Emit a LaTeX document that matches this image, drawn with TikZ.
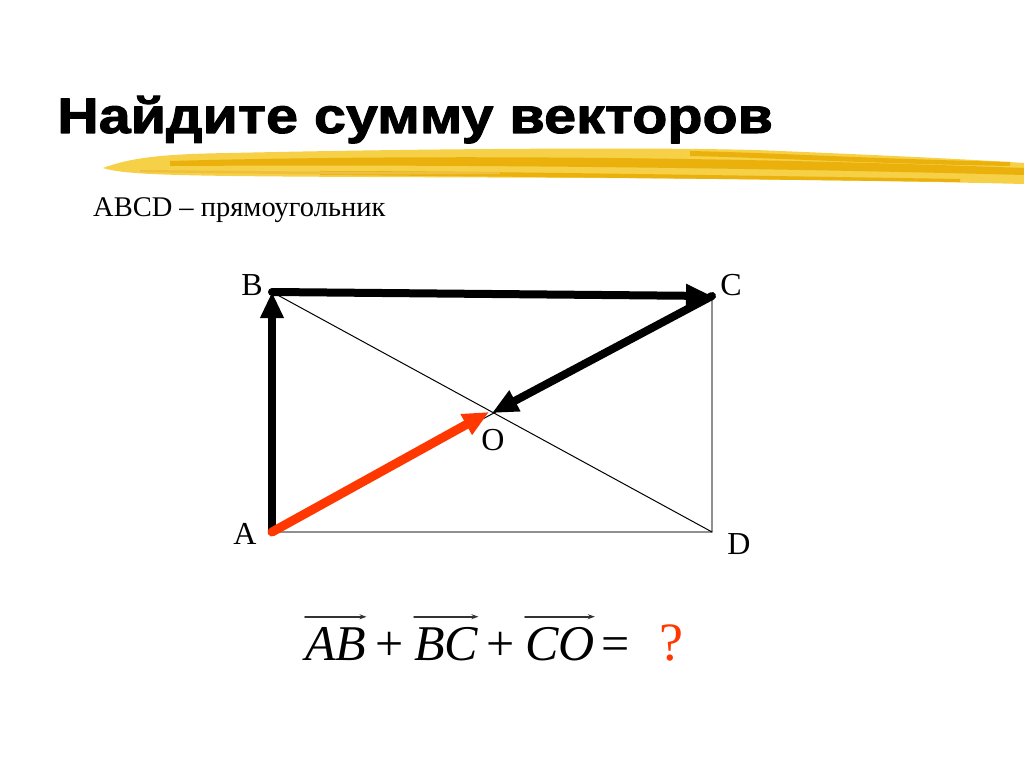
\documentclass[tikz,border=0pt]{standalone}
\usepackage{fontspec}
\setmainfont{Liberation Serif}
\newfontfamily\headfont{Liberation Sans}[FakeStretch=1.15,FakeBold=2]
\usetikzlibrary{arrows.meta,positioning}
\definecolor{vecred}{RGB}{255,55,0}
\definecolor{brushlight}{RGB}{246,208,70}
\definecolor{brushdark}{RGB}{234,176,12}
\definecolor{edgegray}{RGB}{85,85,85}

\begin{document}
\begin{tikzpicture}[x=1pt,y=-1pt,line cap=round,line join=round,>={Triangle[length=26pt,width=22pt]}]
        \useasboundingbox (0,0) rectangle (1024,767);
        % brush stroke under the title
        \fill[brushlight] (103,168) .. controls (130,158) and (160,154) .. (230,153) .. controls (450,148) and (700,147) .. (780,151) .. controls (900,156) and (980,160) .. (1024,163) -- (1024,184) .. controls (900,181) and (760,179) .. (600,178) .. controls (400,177) and (250,177) .. (180,175) .. controls (140,174) and (115,172) .. (103,168) -- cycle;
        \fill[brushdark] (170,161) .. controls (350,156) and (650,154) .. (1024,168) -- (1024,175) .. controls (650,165) and (350,165) .. (170,166) -- cycle;
        \fill[brushdark] (690,151) .. controls (780,153) and (850,158) .. (1010,162) -- (1010,166) .. controls (850,163) and (780,158) .. (690,156) -- cycle;
        \fill[brushdark] (320,171) .. controls (450,171) and (650,174) .. (960,179) -- (960,182) .. controls (650,178) and (450,176) .. (320,175) -- cycle;
        \fill[brushdark!80!white] (140,170) .. controls (250,171) and (350,172) .. (500,172) -- (500,174) .. controls (350,175) and (250,174) .. (140,172) -- cycle;
        % title and task
        \node[anchor=base west,inner sep=0,font=\headfont\bfseries\fontsize{50}{56}\selectfont] (title) at (57,133) {Найдите сумму векторов};
        \node[anchor=base west,inner sep=0,font=\fontsize{28.5}{32}\selectfont] (task) at (93,217) {ABCD – прямоугольник};
        % rectangle
        \coordinate (A) at (272,532);
        \coordinate (B) at (272,292);
        \coordinate (C) at (712,296);
        \coordinate (D) at (712,532);
        \coordinate (O) at (492,413);
        \draw[line width=1.3pt,edgegray] (A) -- (B) -- (C) -- (D) -- cycle;
        \draw[line width=1pt] (B) -- (D);
        \draw[line width=1pt] (A) -- (C);
        \draw[->,line width=8pt] (A) -- (B);
        \draw[->,line width=8pt] (B) -- (C);
        \draw[->,line width=8pt] (C) -- (O);
        \draw[->,line width=9pt,vecred] (A) -- ([xshift=-3pt,yshift=1pt]O);
        \node[font=\fontsize{32}{36}\selectfont] (lA) at (245,534) {A};
        \node[font=\fontsize{32}{36}\selectfont] (lB) at (252,285) {B};
        \node[font=\fontsize{32}{36}\selectfont] (lC) at (731,285) {C};
        \node[font=\fontsize{32}{36}\selectfont] (lD) at (739,544) {D};
        \node[font=\fontsize{32}{36}\selectfont] (lO) at (493,440) {O};
        % the sum
        \begin{scope}[every node/.style={inner sep=0,font=\fontsize{50}{56}\selectfont}]
        \node[anchor=base west] (vAB) at (305,660) {\itshape AB};
        \node[base right=9pt of vAB] (p1) {+};
        \node[base right=10pt of p1] (vBC) {\itshape BC};
        \node[base right=8pt of vBC] (p2) {+};
        \node[base right=10pt of p2] (vCO) {\itshape CO};
        \node[base right=6pt of vCO] (eq) {=};
        \node[base right=30pt of eq,text=vecred,font=\fontsize{54}{60}\selectfont] (ask) {?};
        \end{scope}
        \foreach \v in {vAB,vBC,vCO}
          \draw[-{Stealth[length=7pt,width=5pt]},line width=1.6pt,black!80] ([yshift=10pt]\v.north west) -- ([yshift=10pt]\v.north east);
\end{tikzpicture}
\end{document}
